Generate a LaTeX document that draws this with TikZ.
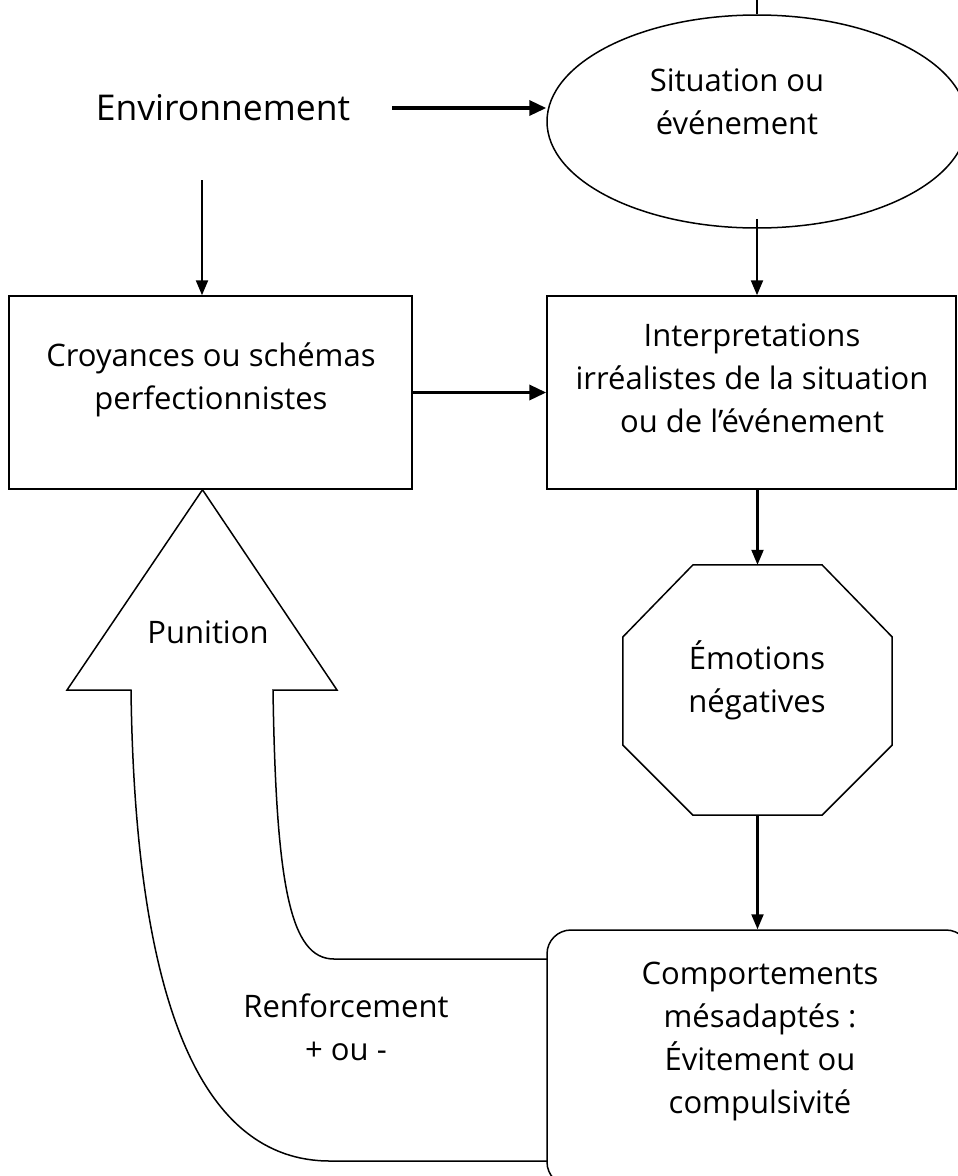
\documentclass[tikz,border=0pt]{standalone}
\usepackage{fontspec}
\setmainfont{Open Sans}
\usetikzlibrary{arrows.meta,shapes.geometric}
\usetikzlibrary{positioning}
\tikzset{
  txt/.style={align=center,inner sep=0pt,font=\fontsize{31}{43}\selectfont},
  shapeline/.style={draw,line width=1.5pt,fill=white},
  arr/.style={line width=2.2pt,-{Triangle[length=15pt,width=12pt]}},
  bigarr/.style={line width=3.5pt,-{Triangle[length=17pt,width=15pt]}}
}

\begin{document}
\begin{tikzpicture}[x=1pt,y=-1pt]
  \useasboundingbox (0,0) rectangle (958,1176);

  % the shapes
  \node[shapeline,ellipse,minimum width=420pt,minimum height=213pt] (sit) at (757,121.5) {};
  \node[shapeline,rectangle,minimum width=403pt,minimum height=193pt] (crb) at (210.5,392.5) {};
  \node[shapeline,rectangle,minimum width=409pt,minimum height=193pt] (int) at (751.5,392.5) {};
  \node[rectangle,minimum width=269pt,minimum height=250pt] (emo) at (757.5,690) {};
  \draw[shapeline] ([xshift=-64.5pt]emo.north) -- ([xshift=64.5pt]emo.north)
    -- ([yshift=53pt]emo.east) -- ([yshift=-55pt]emo.east)
    -- ([xshift=64.5pt]emo.south) -- ([xshift=-64.5pt]emo.south)
    -- ([yshift=-55pt]emo.west) -- ([yshift=53pt]emo.west) -- cycle;

  % big arrow back up
  \draw[shapeline] ([xshift=-8pt]crb.south) -- (337,690) -- (273,690)
    .. controls (276,885) and (290,959) .. (334,959) -- (560,959)
    -- (560,1161) -- (330,1161)
    .. controls (200,1161) and (135,1000) .. (131,690) -- (67,690) -- cycle;
  \node[shapeline,rectangle,rounded corners=24pt,minimum width=423pt,minimum height=256pt] (comp) at (758.5,1058) {};

  % texts
  \node[txt,font=\fontsize{35.5}{43}\selectfont] (env) at (223,108) {Environnement};
  \node[txt] (sittxt) at (737,101.5) {Situation ou\\événement};
  \node[txt] (crbtxt) at (211,380) {Croyances ou schémas\\perfectionnistes};
  \node[txt] (inttxt) at (752,378) {Interpretations\\irréalistes de la situation\\ou de l’événement};
  \node[txt] (emotxt) at (757,680) {Émotions\\négatives};
  \node[txt] (comptxt) at (760,1041) {Comportements\\mésadaptés :\\Évitement ou\\compulsivité};
  \node[txt] (punition) at (208,632) {Punition};
  \node[txt] (renf) at (346,1027) {Renforcement\\+ ou -};

  % arrows
  \coordinate (envdown) at (202,180);
  \draw[bigarr,shorten <=42pt] (env.east) -- (env.east -| sit.west);
  \draw[arr] (envdown) -- (envdown |- crb.north);
  \draw[line width=1.5pt] (sit.north) -- ++(0,-25);
  \draw[arr] ([yshift=10pt]sit.south) -- (sit.south |- int.north);
  \draw[bigarr] (crb.east) -- (int.west);
  \draw[arr] (int.south -| emo.north) -- (emo.north);
  \draw[arr] (emo.south) -- (emo.south |- comp.north);

\end{tikzpicture}
\end{document}
